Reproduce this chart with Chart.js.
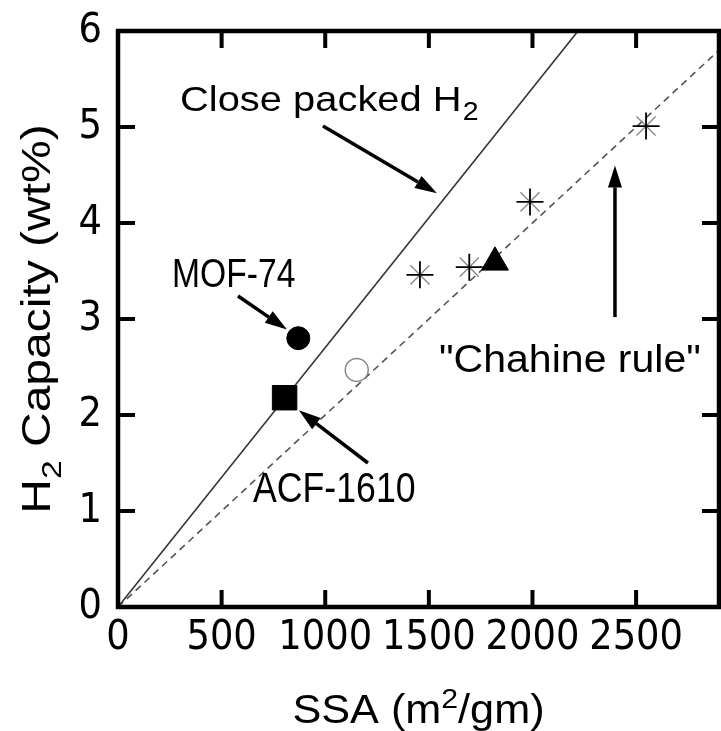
<!DOCTYPE html>
<html>
<head>
<meta charset="utf-8">
<script src="https://cdn.jsdelivr.net/npm/chart.js@4"></script>
<style>
  html, body { margin: 0; padding: 0; background: #fff; }
  #wrap { width: 721px; height: 731px; }
</style>
</head>
<body>
<div id="wrap"><canvas id="chart" width="721" height="731"></canvas></div>
<script>
// values
const xMax = 2900;
const yMax = 6;
const xTicks = [0, 500, 1000, 1500, 2000, 2500];
const yTicks = [0, 1, 2, 3, 4, 5, 6];

// lines: close packed H2 and the "Chahine rule" (1 wt% per 500 m2/g)
const closePackedX = [0, 2220];
const closePackedY = [0, 6];
const chahineX = [0, 2900];
const chahineY = [0, 5.8];

// markers
const starX = [1457, 1695, 1988, 2548];
const starY = [3.46, 3.54, 4.22, 5.01];
const triangleX = [1819];
const triangleY = [3.59];
const openCircleX = [1152];
const openCircleY = [2.47];
const mofX = [870];
const mofY = [2.80];
const acfX = [804];
const acfY = [2.18];

const narrow = '"Liberation Sans Narrow", "DejaVu Sans Condensed", "Liberation Sans", sans-serif';
const regular = '"Liberation Sans", Arial, sans-serif';

function pts(xs, ys) {
    return xs.map((x, i) => ({ x: x, y: ys[i] }));
}

// annotation arrows and labels, placed in data units
const arrows = [
    { from: [989, 5.01], to: [1539, 4.31] },
    { from: [579, 3.24], to: [815, 2.89] },
    { from: [1206, 1.50], to: [873, 2.05] },
    { from: [2398, 3.02], to: [2398, 4.60] }
];
const labels = [
    { text: 'Close packed H', sub: '2', at: [299, 5.17], size: 35, sx: 1.14 },
    { text: 'MOF-74', at: [261, 3.33], size: 41, sx: 0.82 },
    { text: 'ACF-1610', at: [651, 1.09], size: 42, sx: 0.85 },
    { text: '"Chahine rule"', at: [1549, 2.45], size: 38, sx: 1.08 }
];

const frameTicks = {
    id: 'frameTicks',
    afterDatasetsDraw(chart) {
        const { ctx, chartArea: a, scales: { x, y } } = chart;
        ctx.save();
        ctx.strokeStyle = '#000';
        ctx.lineWidth = 4.5;
        ctx.strokeRect(a.left, a.top, a.right - a.left, a.bottom - a.top);
        ctx.lineWidth = 4;
        ctx.beginPath();
        x.ticks.forEach(t => {
            if (t.value <= x.min || t.value >= x.max) return;
            const px = x.getPixelForValue(t.value);
            ctx.moveTo(px, a.bottom); ctx.lineTo(px, a.bottom - 17);
            ctx.moveTo(px, a.top); ctx.lineTo(px, a.top + 17);
        });
        y.ticks.forEach(t => {
            if (t.value <= y.min || t.value >= y.max) return;
            const py = y.getPixelForValue(t.value);
            ctx.moveTo(a.left, py); ctx.lineTo(a.left + 17, py);
            ctx.moveTo(a.right, py); ctx.lineTo(a.right - 17, py);
        });
        ctx.stroke();
        ctx.restore();
    }
};

// draws text with a horizontal stretch, optional subscript / superscript parts
function stretchedText(ctx, parts, size, sx) {
    ctx.save();
    ctx.scale(sx, 1);
    let w = 0;
    parts.forEach(p => {
        const s = p.sub || p.sup ? Math.round(size * 0.7) : size;
        ctx.font = s + 'px ' + regular;
        w += ctx.measureText(p.t).width;
    });
    let cx = -w / 2;
    parts.forEach(p => {
        const s = p.sub || p.sup ? Math.round(size * 0.7) : size;
        const dy = p.sub ? size * 0.28 : (p.sup ? -size * 0.38 : 0);
        ctx.font = s + 'px ' + regular;
        ctx.fillText(p.t, cx, dy);
        cx += ctx.measureText(p.t).width;
    });
    ctx.restore();
}

const notes = {
    id: 'notes',
    afterDraw(chart) {
        const { ctx, chartArea: a, scales: { x, y } } = chart;
        ctx.save();
        ctx.fillStyle = '#000';
        ctx.strokeStyle = '#000';

        arrows.forEach(ar => {
            const x0 = x.getPixelForValue(ar.from[0]), y0 = y.getPixelForValue(ar.from[1]);
            const x1 = x.getPixelForValue(ar.to[0]), y1 = y.getPixelForValue(ar.to[1]);
            const ang = Math.atan2(y1 - y0, x1 - x0);
            const headLen = 22, headW = 7;
            const bx = x1 - Math.cos(ang) * headLen, by = y1 - Math.sin(ang) * headLen;
            ctx.lineWidth = 3.5;
            ctx.beginPath();
            ctx.moveTo(x0, y0);
            ctx.lineTo(bx, by);
            ctx.stroke();
            ctx.beginPath();
            ctx.moveTo(x1, y1);
            ctx.lineTo(bx + Math.sin(ang) * headW, by - Math.cos(ang) * headW);
            ctx.lineTo(bx - Math.sin(ang) * headW, by + Math.cos(ang) * headW);
            ctx.closePath();
            ctx.fill();
        });

        ctx.textBaseline = 'alphabetic';
        ctx.textAlign = 'left';
        labels.forEach(l => {
            const px = x.getPixelForValue(l.at[0]), py = y.getPixelForValue(l.at[1]);
            ctx.save();
            ctx.translate(px, py);
            ctx.scale(l.sx, 1);
            ctx.font = l.size + 'px ' + regular;
            ctx.fillText(l.text, 0, 0);
            if (l.sub) {
                const w = ctx.measureText(l.text).width;
                ctx.font = Math.round(l.size * 0.7) + 'px ' + regular;
                ctx.fillText(l.sub, w + 1, l.size * 0.28);
            }
            ctx.restore();
        });

        // axis titles
        ctx.save();
        ctx.translate((a.left + a.right) / 2, 723);
        stretchedText(ctx, [{ t: 'SSA (m' }, { t: '2', sup: true }, { t: '/gm)' }], 40, 1.08);
        ctx.restore();

        ctx.save();
        ctx.translate(50, (a.top + a.bottom) / 2);
        ctx.rotate(-Math.PI / 2);
        stretchedText(ctx, [{ t: 'H' }, { t: '2', sub: true }, { t: ' Capacity (wt%)' }], 40, 1.2);
        ctx.restore();

        ctx.restore();
    }
};

new Chart(document.getElementById('chart'), {
    type: 'scatter',
    data: {
        datasets: [
            {
                data: pts(starX, starY),
                pointStyle: 'cross', pointRadius: 13.5,
                borderColor: '#000', borderWidth: 1.8
            },
            {
                data: pts(starX, starY),
                pointStyle: 'crossRot', pointRadius: 13.5,
                borderColor: '#8a8a8a', borderWidth: 1.4
            },
            {
                data: pts(triangleX, triangleY),
                pointStyle: 'triangle', pointRadius: 15.5,
                backgroundColor: '#000', borderColor: '#000', borderWidth: 1
            },
            {
                data: pts(openCircleX, openCircleY),
                pointStyle: 'circle', pointRadius: 11.5,
                backgroundColor: '#fff', borderColor: '#888', borderWidth: 1.5
            },
            {
                data: pts(mofX, mofY),
                pointStyle: 'circle', pointRadius: 11.5,
                backgroundColor: '#000', borderColor: '#000', borderWidth: 1
            },
            {
                data: pts(acfX, acfY),
                pointStyle: 'rect', pointRadius: 17.3,
                backgroundColor: '#000', borderColor: '#000', borderWidth: 1
            },
            {
                data: pts(closePackedX, closePackedY),
                showLine: true, pointRadius: 0,
                borderColor: '#333', borderWidth: 1.6
            },
            {
                data: pts(chahineX, chahineY),
                showLine: true, pointRadius: 0,
                borderColor: '#555', borderWidth: 1.6, borderDash: [7, 5]
            }
        ]
    },
    options: {
        responsive: false,
        animation: false,
        devicePixelRatio: 1,
        // autoPadding would reserve room for the big markers on the right
        layout: { autoPadding: false, padding: { top: 31, right: 2, bottom: 0, left: 0 } },
        plugins: { legend: { display: false }, tooltip: { enabled: false } },
        scales: {
            x: {
                type: 'linear', min: 0, max: xMax,
                grid: { display: false, drawTicks: false },
                border: { display: false },
                ticks: {
                    autoSkip: false, maxRotation: 0, minRotation: 0,
                    padding: 7, color: '#000',
                    font: { family: narrow, size: 41 },
                    callback: v => String(v)
                },
                afterBuildTicks(s) { s.ticks = xTicks.map(v => ({ value: v })); },
                afterFit(s) { s.height = 124; s.paddingLeft = 0; s.paddingRight = 0; }
            },
            y: {
                type: 'linear', min: 0, max: yMax,
                grid: { display: false, drawTicks: false },
                border: { display: false },
                ticks: {
                    autoSkip: false, padding: 16, color: '#000',
                    font: { family: narrow, size: 41 },
                    callback: v => String(v)
                },
                afterBuildTicks(s) { s.ticks = yTicks.map(v => ({ value: v })); },
                afterFit(s) { s.width = 118; s.paddingTop = 0; s.paddingBottom = 0; }
            }
        }
    },
    plugins: [frameTicks, notes]
});
</script>
</body>
</html>
